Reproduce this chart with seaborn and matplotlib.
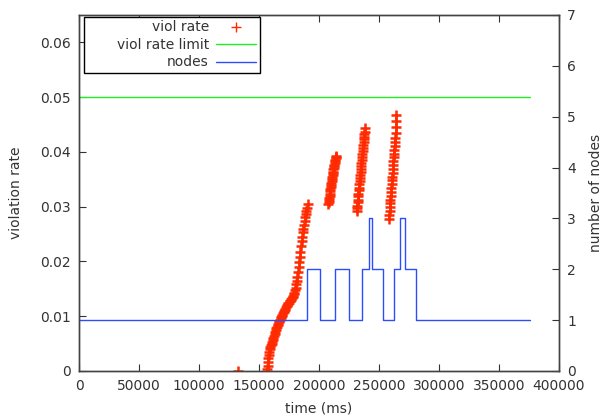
import numpy as np
import pandas as pd
import matplotlib
matplotlib.use("Agg")
import matplotlib.pyplot as plt
import seaborn as sns
from matplotlib.lines import Line2D
from matplotlib.offsetbox import DrawingArea

# ---- data ----
viol_t_isolated = [132500]
viol_r_isolated = [0.0]

viol_t_1 = [157000, 157300, 157600, 157900, 158200, 158600, 159000, 159500, 160000, 160500,
            161000, 161500, 162000, 162500, 163000, 163500, 164000, 164500, 165000, 165500,
            166000, 166500, 167000, 167500, 168000, 168500, 169000, 169500, 170000, 170500,
            171000, 171500, 172000, 172500, 173000, 173500, 174000, 174500, 175000, 175500,
            176000, 176500, 177000, 177500, 178000, 178500, 179000, 179500, 180000, 180500,
            181000, 181500, 182000, 182500, 183000, 183500, 184000, 184500, 185000, 185500,
            186000, 186500, 187000, 187500, 188000, 188500, 189000, 189500, 190000, 190600]
viol_r_1 = [0.0003, 0.0010, 0.0017, 0.0024, 0.0030, 0.0035, 0.0040, 0.0044, 0.0047, 0.0050,
            0.0053, 0.0057, 0.0060, 0.0064, 0.0068, 0.0072, 0.0075, 0.0078, 0.0081, 0.0084,
            0.0086, 0.0089, 0.0091, 0.0094, 0.0096, 0.0098, 0.0100, 0.0103, 0.0105, 0.0108,
            0.0110, 0.0112, 0.0114, 0.0116, 0.0118, 0.0120, 0.0122, 0.0124, 0.0125, 0.0127,
            0.0128, 0.0130, 0.0131, 0.0133, 0.0135, 0.0137, 0.0140, 0.0143, 0.0147, 0.0152,
            0.0158, 0.0165, 0.0172, 0.0181, 0.0190, 0.0199, 0.0208, 0.0218, 0.0228, 0.0237,
            0.0245, 0.0253, 0.0260, 0.0267, 0.0274, 0.0281, 0.0287, 0.0293, 0.0298, 0.0305]

viol_t_2 = [207800, 208050, 208300, 208550, 208800, 209050, 209300, 209550, 209800, 210050,
            210300, 210550, 210800, 211050, 211300, 211550, 211800, 212050, 212300, 212550,
            212800, 213050, 213300, 213550, 213800, 214050, 214300]
viol_r_2 = [0.0305, 0.0309, 0.0312, 0.0316, 0.0320, 0.0324, 0.0328, 0.0332, 0.0336, 0.0340,
            0.0343, 0.0347, 0.0350, 0.0354, 0.0357, 0.0361, 0.0364, 0.0368, 0.0371, 0.0374,
            0.0377, 0.0380, 0.0383, 0.0386, 0.0388, 0.0391, 0.0393]

viol_t_3 = [231400, 231650, 231900, 232150, 232400, 232650, 232900, 233150, 233400, 233650,
            233900, 234150, 234400, 234650, 234900, 235150, 235400, 235650, 235900, 236150,
            236400, 236650, 236900, 237150, 237400, 237650, 237900, 238150, 238400]
viol_r_3 = [0.0292, 0.0297, 0.0302, 0.0308, 0.0313, 0.0319, 0.0324, 0.0330, 0.0335, 0.0341,
            0.0346, 0.0352, 0.0357, 0.0363, 0.0368, 0.0374, 0.0379, 0.0385, 0.0390, 0.0396,
            0.0401, 0.0407, 0.0412, 0.0418, 0.0423, 0.0428, 0.0432, 0.0437, 0.0443]

viol_t_4 = [258300, 258550, 258800, 259050, 259300, 259550, 259800, 260050, 260300, 260550,
            260800, 261050, 261300, 261550, 261800, 262050, 262300, 262550, 262800, 263050,
            263300, 263550, 263800, 264050, 264300, 264550]
viol_r_4 = [0.0278, 0.0285, 0.0292, 0.0299, 0.0306, 0.0313, 0.0320, 0.0327, 0.0334, 0.0341,
            0.0348, 0.0355, 0.0362, 0.0369, 0.0376, 0.0383, 0.0390, 0.0397, 0.0404, 0.0411,
            0.0418, 0.0425, 0.0434, 0.0445, 0.0456, 0.0467]

limit_t = [0, 376000]
limit_r = [0.05, 0.05]

nodes_t = [0, 190000, 200500, 213000, 225000, 236000, 241500, 244000, 253500, 262500,
           267500, 271500, 281000, 376000]
nodes_n = [1, 2, 1, 2, 1, 2, 3, 2, 1, 2, 3, 2, 1, 1]

x_ticks = [0, 50000, 100000, 150000, 200000, 250000, 300000, 350000, 400000]
y_ticks = [0, 0.01, 0.02, 0.03, 0.04, 0.05, 0.06]
y2_ticks = [0, 1, 2, 3, 4, 5, 6, 7]

RED = "#ff2a00"
GREEN = "#22ee22"
BLUE = "#2a4dff"
TXT = "#333333"

# ---- plot ----
sns.set_theme(style="white")
plt.rcParams["font.family"] = ["DejaVu Sans"]
plt.rcParams["font.size"] = 10

viol = pd.DataFrame({
    "t": viol_t_isolated + viol_t_1 + viol_t_2 + viol_t_3 + viol_t_4,
    "r": viol_r_isolated + viol_r_1 + viol_r_2 + viol_r_3 + viol_r_4,
})
limit = pd.DataFrame({"t": limit_t, "r": limit_r})
nodes = pd.DataFrame({"t": nodes_t, "n": nodes_n})

fig = plt.figure(figsize=(6.06, 4.20), dpi=100)
ax = fig.add_axes([79 / 606, 1 - 371 / 420, (559 - 79) / 606, (371 - 15) / 420])
ax2 = ax.twinx()

sns.lineplot(data=limit, x="t", y="r", ax=ax, color=GREEN, linewidth=1.0,
             estimator=None, sort=False)
sns.scatterplot(data=viol, x="t", y="r", ax=ax, marker="+", color=RED, s=45,
                linewidth=1.8, zorder=3)
sns.lineplot(data=nodes, x="t", y="n", ax=ax2, color=BLUE, linewidth=1.0,
             drawstyle="steps-post", estimator=None, sort=False)

ax.set_xlim(0, 400000)
ax.set_ylim(0, 0.065)
ax2.set_ylim(0, 7)
ax.set_xticks(x_ticks)
ax.set_xticklabels([str(v) for v in x_ticks])
ax.set_yticks(y_ticks)
ax.set_yticklabels(["0"] + [f"{v:.2f}" for v in y_ticks[1:]])
ax2.set_yticks(y2_ticks)
ax2.set_yticklabels([str(v) for v in y2_ticks])

ax.set_xlabel("time (ms)", color=TXT, fontsize=10, labelpad=6)
ax.set_ylabel("violation rate", color=TXT, fontsize=10, labelpad=12)
ax2.set_ylabel("number of nodes", color=TXT, fontsize=10, labelpad=9)

ax.tick_params(axis="x", direction="in", length=5, width=0.8, top=True, bottom=True,
               colors=TXT, labelsize=10, pad=6)
ax.tick_params(axis="y", direction="in", length=5, width=0.8, left=True, right=False,
               colors=TXT, labelsize=10, pad=6)
ax2.tick_params(axis="y", direction="in", length=5, width=0.8, right=True, left=False,
                colors=TXT, labelsize=10, pad=6)

for a in (ax, ax2):
    for s in a.spines.values():
        s.set_color("#444444")
        s.set_linewidth(1.0)

handles = [
    Line2D([], [], marker="+", linestyle="none", color=RED, markersize=7, markeredgewidth=1.0),
    Line2D([], [], color=GREEN, linewidth=1.0),
    Line2D([], [], color=BLUE, linewidth=1.0),
]
labels = ["viol rate", "viol rate limit", "nodes"]
leg = ax2.legend(handles, labels, loc="upper left",
                 bbox_to_anchor=(84 / 606, 1 - 17 / 420),
                 bbox_transform=fig.transFigure,
                 markerfirst=False, frameon=True, fancybox=False, framealpha=1,
                 edgecolor="black", fontsize=10, handlelength=2.9, labelspacing=0.25,
                 borderpad=0.25, handletextpad=0.5, borderaxespad=0)
leg.get_frame().set_linewidth(1.0)
for col in leg._legend_box._children[1]._children:
    col.align = "right"
    # widen the left margin of the widest entry (gnuplot-style key box)
    col._children[1]._children.insert(0, DrawingArea(16, 1))
for t in leg.get_texts():
    t.set_color(TXT)
if ax.get_legend() is not None:
    ax.get_legend().remove()

fig.savefig("out.png", dpi=100)
